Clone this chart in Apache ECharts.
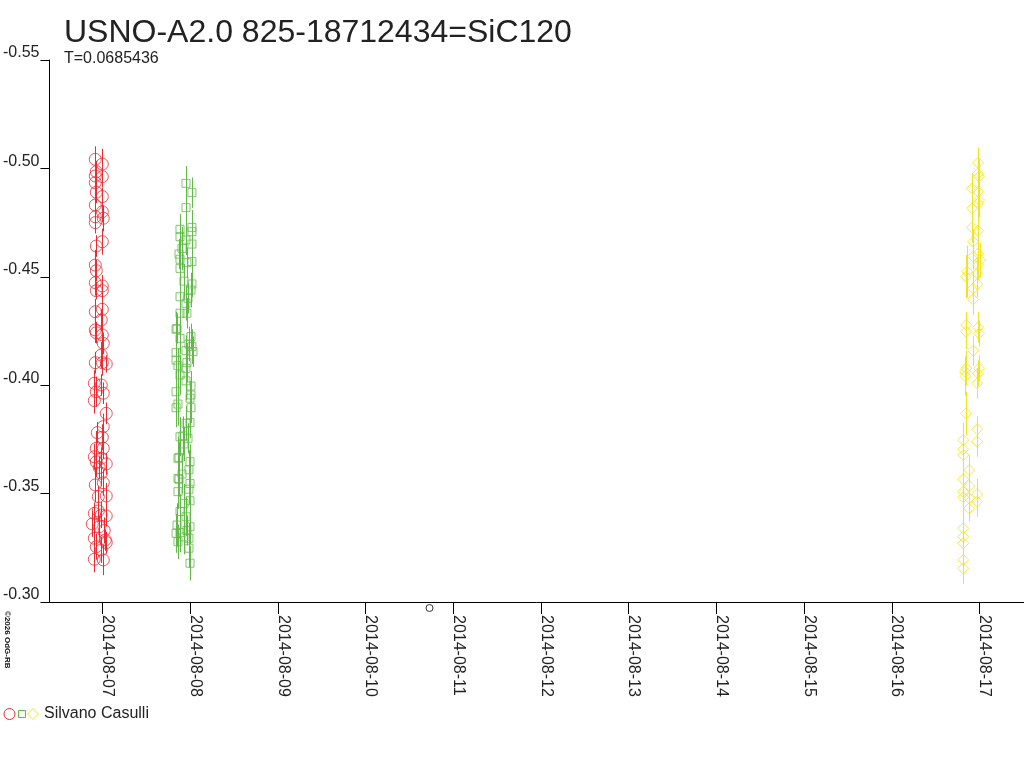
<!DOCTYPE html>
<html lang="en">
<head>
<meta charset="UTF-8">
<title>SiC120</title>
<script src="https://cdn.jsdelivr.net/npm/echarts@6.0.0/dist/echarts.min.js"></script>
<style>
  html, body { margin: 0; padding: 0; background: #fff; }
  #main { width: 1024px; height: 768px; }
</style>
</head>
<body>
<div id="main"></div>
<script>
// x = days since 2014-08-07 00:00 UT, y = differential magnitude
var tickDays = [0, 1, 2, 3, 4, 5, 6, 7, 8, 9, 10];
var tickLabels = ['2014-08-07', '2014-08-08', '2014-08-09', '2014-08-10', '2014-08-11', '2014-08-12',
                  '2014-08-13', '2014-08-14', '2014-08-15', '2014-08-16', '2014-08-17'];

// night 1 (red circles)
var redT = [-0.083, -0.003, -0.072, -0.083, -0.003, -0.083, -0.003, -0.083, -0.003, -0.083,
            -0.083, -0.003, -0.072, -0.083, -0.072, -0.083, -0.003, -0.072, -0.003, -0.003,
            -0.083, -0.015, -0.083, -0.072, -0.003, 0.008, -0.015, -0.083, -0.003, 0.042,
            -0.094, -0.015, -0.072, 0.008, -0.094, 0.042, 0.008, -0.060, -0.072, 0.008,
            -0.094, -0.015, -0.072, 0.042, -0.015, -0.083, 0.008, -0.049, 0.042, -0.094,
            -0.015, 0.042, -0.117, -0.038, -0.094, 0.031, -0.072, 0.042, -0.015, -0.094,
            0.008, -0.038, 0.019, -0.049, -0.003, -0.072, 0.008];
var redMag = [-0.5042, -0.5020, -0.4985, -0.4965, -0.4962, -0.4934, -0.4870, -0.4831, -0.4800, -0.4777,
              -0.4750, -0.4662, -0.4642, -0.4554, -0.4528, -0.4473, -0.4458, -0.4436, -0.4436, -0.4350,
              -0.4339, -0.4301, -0.4255, -0.4242, -0.4232, -0.4193, -0.4139, -0.4104, -0.4104, -0.4098,
              -0.4009, -0.4001, -0.3970, -0.3963, -0.3929, -0.3870, -0.3809, -0.3781, -0.3709, -0.3709,
              -0.3670, -0.3663, -0.3647, -0.3637, -0.3594, -0.3540, -0.3550, -0.3486, -0.3489, -0.3409,
              -0.3401, -0.3397, -0.3360, -0.3347, -0.3294, -0.3286, -0.3255, -0.3274, -0.3240, -0.3197,
              -0.3194, -0.3620, -0.3330, -0.3420, -0.3760, -0.4890, -0.4770];
var redErr = [0.006, 0.007, 0.005, 0.006, 0.005, 0.006, 0.004, 0.006, 0.005, 0.006,
              0.005, 0.006, 0.005, 0.007, 0.005, 0.006, 0.005, 0.004, 0.005, 0.005,
              0.006, 0.005, 0.006, 0.005, 0.007, 0.005, 0.006, 0.005, 0.006, 0.004,
              0.006, 0.005, 0.007, 0.005, 0.006, 0.005, 0.006, 0.005, 0.008, 0.005,
              0.006, 0.005, 0.007, 0.005, 0.006, 0.008, 0.006, 0.005, 0.006, 0.005,
              0.006, 0.005, 0.006, 0.005, 0.007, 0.005, 0.006, 0.005, 0.006, 0.006,
              0.007, 0.005, 0.006, 0.005, 0.006, 0.005, 0.006];

// night 2 (green squares)
var greenT = [0.951, 1.019, 0.951, 0.883, 1.019, 0.883, 1.019, 0.951, 1.019, 0.906,
              0.883, 1.019, 0.883, 0.962, 1.019, 1.008, 0.883, 0.974, 0.951, 0.962,
              0.883, 0.838, 0.883, 1.008, 1.019, 0.838, 0.951, 0.838, 0.962, 1.031,
              0.860, 0.951, 0.883, 0.838, 1.008, 1.008, 0.838, 1.008, 0.951, 0.883,
              0.974, 0.860, 0.997, 0.860, 0.997, 0.860, 0.928, 0.997, 0.883, 0.951,
              0.849, 0.997, 0.838, 0.985, 0.860, 0.985, 0.997, 0.849, 0.985, 0.951,
              0.997, 0.860, 0.997, 0.917, 0.928, 0.872, 0.985, 0.872, 0.985, 0.883,
              0.928, 0.962, 0.906, 0.928, 0.872];
var greenMag = [-0.4931, -0.4888, -0.4819, -0.4719, -0.4728, -0.4685, -0.4708, -0.4670, -0.4651, -0.4631,
                -0.4581, -0.4570, -0.4539, -0.4565, -0.4467, -0.4439, -0.4408, -0.4401, -0.4378, -0.4332,
                -0.4332, -0.4258, -0.4216, -0.4224, -0.4178, -0.4150, -0.4159, -0.4116, -0.4104, -0.4155,
                -0.4090, -0.4078, -0.4047, -0.3970, -0.3996, -0.3955, -0.3896, -0.3896, -0.3824, -0.3762,
                -0.3755, -0.3663, -0.3647, -0.3570, -0.3547, -0.3509, -0.3455, -0.3467, -0.3417, -0.3393,
                -0.3355, -0.3347, -0.3317, -0.3294, -0.3278, -0.3248, -0.3179, -0.4262, -0.4190, -0.4020,
                -0.3940, -0.3913, -0.3827, -0.3766, -0.3729, -0.3667, -0.3610, -0.3566, -0.3520, -0.3320,
                -0.3300, -0.3330, -0.3590, -0.4480, -0.4605];
var greenErr = [0.008, 0.007, 0.009, 0.007, 0.008, 0.006, 0.009, 0.007, 0.008, 0.010,
                0.007, 0.008, 0.009, 0.007, 0.006, 0.008, 0.009, 0.007, 0.008, 0.007,
                0.009, 0.008, 0.007, 0.006, 0.008, 0.009, 0.007, 0.008, 0.009, 0.007,
                0.008, 0.007, 0.009, 0.010, 0.007, 0.008, 0.009, 0.007, 0.008, 0.009,
                0.007, 0.010, 0.008, 0.009, 0.007, 0.008, 0.009, 0.007, 0.008, 0.009,
                0.010, 0.008, 0.009, 0.007, 0.008, 0.009, 0.008, 0.007, 0.008, 0.009,
                0.008, 0.010, 0.007, 0.009, 0.008, 0.007, 0.009, 0.008, 0.007, 0.009,
                0.008, 0.007, 0.009, 0.008, 0.007];

// night 3 (yellow diamonds)
var yellowT = [9.985, 9.985, 9.996, 9.917, 9.985, 9.996, 9.985, 9.917, 9.917, 9.985,
               9.928, 9.985, 9.928, 10.008, 9.985, 9.860, 9.849, 9.974, 9.974, 9.928,
               9.928, 9.849, 9.985, 9.849, 9.996, 9.928, 9.849, 9.996, 9.838, 9.985,
               9.838, 9.974, 9.849, 9.974, 9.815, 9.974, 9.815, 9.815, 9.883, 9.815,
               9.883, 9.815, 9.974, 9.815, 9.883, 9.974, 9.883, 9.815, 9.815, 9.815,
               9.815, 9.815];
var yellowMag = [-0.5026, -0.4977, -0.4962, -0.4908, -0.4893, -0.4854, -0.4839, -0.4816, -0.4728, -0.4713,
                 -0.4662, -0.4608, -0.4593, -0.4577, -0.4554, -0.4524, -0.4501, -0.4516, -0.4467, -0.4447,
                 -0.4396, -0.4278, -0.4267, -0.4247, -0.4239, -0.4159, -0.4078, -0.4078, -0.4062, -0.4055,
                 -0.4042, -0.4009, -0.3870, -0.3797, -0.3747, -0.3740, -0.3704, -0.3678, -0.3609, -0.3566,
                 -0.3535, -0.3509, -0.3498, -0.3483, -0.3478, -0.3463, -0.3432, -0.3340, -0.3301, -0.3271,
                 -0.3194, -0.3155];
var yellowErr = [0.007, 0.006, 0.008, 0.007, 0.006, 0.008, 0.007, 0.006, 0.007, 0.008,
                 0.006, 0.007, 0.006, 0.008, 0.007, 0.012, 0.010, 0.007, 0.006, 0.008,
                 0.007, 0.006, 0.007, 0.008, 0.006, 0.007, 0.008, 0.006, 0.007, 0.006,
                 0.009, 0.007, 0.010, 0.006, 0.008, 0.007, 0.009, 0.008, 0.007, 0.008,
                 0.007, 0.008, 0.007, 0.009, 0.006, 0.007, 0.006, 0.008, 0.007, 0.008,
                 0.006, 0.007];

var RED = '#ec2a32', GREEN = '#62b94a', YELLOW = '#f2e41c', INK = '#222';
var FONT = 'Liberation Sans';

function rows(t, m, e) {
    return t.map(function (v, i) { return [v, m[i], e[i]]; });
}

function errorBars(color, data) {
    return {
        type: 'custom',
        data: data,
        silent: true,
        z: 2,
        encode: { x: 0, y: 1 },
        renderItem: function (params, api) {
            var x = api.value(0), y = api.value(1), e = api.value(2);
            var a = api.coord([x, y - e]), b = api.coord([x, y + e]);
            var px = Math.round(a[0]) + 0.5;
            return {
                type: 'line',
                shape: { x1: px, y1: a[1], x2: px, y2: b[1] },
                style: { stroke: color, lineWidth: 1 }
            };
        }
    };
}

function points(color, symbol, size, data) {
    return {
        type: 'scatter',
        data: data,
        symbol: symbol,
        symbolSize: size,
        z: 3,
        silent: true,
        itemStyle: { color: 'rgba(0,0,0,0)', borderColor: color, borderWidth: 1 }
    };
}

var red = rows(redT, redMag, redErr);
var green = rows(greenT, greenMag, greenErr);
var yellow = rows(yellowT, yellowMag, yellowErr);

var myChart = echarts.init(document.getElementById('main'));

var option = {
    animation: false,
    backgroundColor: '#fff',
    title: {
        text: 'USNO-A2.0 825-18712434=SiC120',
        subtext: 'T=0.0685436',
        left: 64,
        top: 17,
        itemGap: 2,
        padding: 0,
        textStyle: { fontFamily: FONT, fontSize: 32, fontWeight: 'normal', color: INK },
        subtextStyle: { fontFamily: FONT, fontSize: 16, color: INK }
    },
    grid: { left: 46, right: 0, top: 60, bottom: 166, containLabel: false },
    xAxis: {
        type: 'value',
        min: -0.6057,
        max: 10.508,
        splitLine: { show: false },
        axisLine: { onZero: false, lineStyle: { color: '#000', width: 1 } },
        axisTick: { customValues: tickDays, length: 12, lineStyle: { color: '#000' } },
        axisLabel: {
            customValues: tickDays,
            rotate: -90,
            margin: 13,
            verticalAlign: 'bottom',
            lineHeight: 10,
            fontFamily: FONT,
            fontSize: 16,
            color: INK,
            formatter: function (v) { return tickLabels[tickDays.indexOf(Math.round(v))]; }
        }
    },
    yAxis: {
        type: 'value',
        inverse: true,
        min: -0.55,
        max: -0.30,
        interval: 0.05,
        splitLine: { show: false },
        axisLine: { show: true, onZero: false, lineStyle: { color: '#000', width: 1 } },
        axisTick: { show: true, length: 9, lineStyle: { color: '#000' } },
        axisLabel: {
            margin: 10,
            verticalAlign: 'bottom',
            lineHeight: 14,
            fontFamily: FONT,
            fontSize: 16,
            color: INK,
            formatter: function (v) { return v.toFixed(2); }
        }
    },
    series: [
        errorBars(RED, red),
        points(RED, 'circle', 12, red),
        errorBars(GREEN, green),
        points(GREEN, 'rect', 8, green),
        errorBars(YELLOW, yellow),
        points(YELLOW, 'diamond', 11, yellow)
    ],
    graphic: [
        { type: 'circle', shape: { cx: 429.5, cy: 608, r: 3.5 }, style: { fill: 'none', stroke: '#333', lineWidth: 1 } },
        { type: 'text', x: 11, y: 611, rotation: -Math.PI / 2,
          style: { text: '\u00a92026 OdG-RB', fontFamily: FONT, fontSize: 8, fontWeight: 'bold', fill: '#111', align: 'left', verticalAlign: 'top' } },
        { type: 'circle', shape: { cx: 9.5, cy: 714, r: 5.5 }, style: { fill: 'none', stroke: RED, lineWidth: 1 } },
        { type: 'rect', shape: { x: 18.5, y: 710.5, width: 7, height: 7 }, style: { fill: 'none', stroke: GREEN, lineWidth: 1 } },
        { type: 'polygon', shape: { points: [[33, 708.5], [38.5, 714], [33, 719.5], [27.5, 714]] }, style: { fill: 'none', stroke: YELLOW, lineWidth: 1 } },
        { type: 'text', x: 44, y: 714, style: { text: 'Silvano Casulli', fontFamily: FONT, fontSize: 16, fill: INK, verticalAlign: 'middle' } }
    ]
};
myChart.setOption(option);
</script>
</body>
</html>
